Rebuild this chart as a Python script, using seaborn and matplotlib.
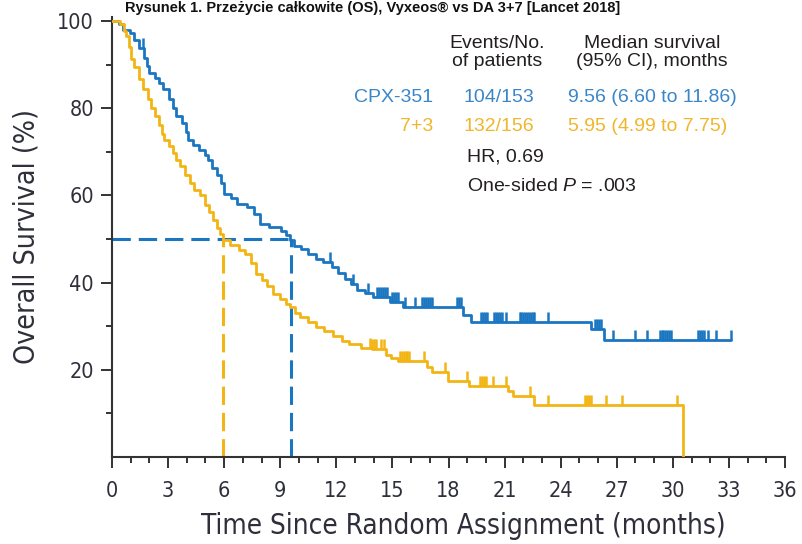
import numpy as np
import pandas as pd
import matplotlib
matplotlib.use("Agg")
import matplotlib.pyplot as plt
from matplotlib.path import Path
import seaborn as sns

# ---- data -------------------------------------------------------------
arms = ["CPX-351", "7+3"]
line_colors = ["#1b76c2", "#f2b515"]
label_colors = ["#3a86c8", "#f0b62c"]

# Kaplan-Meier steps: month of each drop and survival (%) after it
cpx_month = [0.0, 0.35, 0.6, 0.95, 1.2, 1.45, 1.7, 1.85, 2.0, 2.3, 2.5, 2.75,
             3.05, 3.25, 3.4, 3.75, 3.95, 4.05, 4.35, 4.65, 4.95, 5.15, 5.35,
             5.6, 5.85, 6.0, 6.35, 6.7, 7.2, 7.6, 7.9, 8.4, 9.05, 9.3, 9.5,
             9.75, 10.1, 10.5, 10.9, 11.3, 11.75, 12.1, 12.45, 12.8, 13.1,
             13.55, 13.95, 14.85, 15.55, 18.8, 19.2, 25.6, 26.3, 33.1]
cpx_surv = [100.0, 99.3, 98.0, 97.3, 95.6, 93.9, 91.5, 89.6, 88.1, 87.0, 85.8,
            84.4, 82.0, 80.0, 78.2, 76.6, 74.6, 72.8, 71.6, 70.4, 69.2, 68.0,
            66.3, 64.6, 62.8, 60.4, 59.3, 58.1, 57.3, 55.8, 53.5, 52.7, 51.8,
            50.8, 49.7, 48.5, 47.6, 46.5, 45.4, 44.7, 43.5, 42.2, 40.9, 39.7,
            38.2, 37.6, 36.6, 35.5, 34.3, 32.6, 30.9, 29.3, 26.8, 26.8]
cpx_censored = [1.65, 11.66, 12.9, 13.7, 14.2, 14.3, 14.4, 14.5, 14.6, 14.7,
                15.0, 15.1, 15.2, 15.3, 15.67, 16.2, 16.6, 16.7, 16.8, 16.9,
                17.0, 17.1, 18.45, 18.55, 18.65, 19.75, 19.85, 19.95, 20.05,
                20.45, 20.55, 20.65, 20.75, 20.85, 21.1, 21.8, 21.9, 22.0,
                22.1, 22.2, 22.3, 22.4, 22.5, 22.6, 23.3, 25.85, 25.95, 26.05,
                26.15, 26.8, 27.95, 28.6, 29.3, 29.4, 29.5, 29.6, 29.7, 29.8,
                29.9, 31.35, 31.45, 31.55, 31.65, 31.9, 32.3, 33.1]

std_month = [0.0, 0.45, 0.62, 0.77, 0.9, 1.03, 1.2, 1.45, 1.65, 1.9, 2.1, 2.3,
             2.5, 2.7, 2.8, 3.05, 3.25, 3.45, 3.62, 3.9, 4.15, 4.4, 4.7, 4.95,
             5.2, 5.4, 5.6, 5.8, 5.95, 6.3, 6.8, 7.1, 7.45, 7.7, 8.0, 8.3, 8.6,
             9.0, 9.3, 9.5, 9.8, 10.05, 10.5, 10.9, 11.35, 11.8, 12.3, 12.7,
             13.3, 13.9, 14.65, 14.95, 15.3, 16.85, 17.1, 17.95, 19.1, 21.2,
             21.45, 22.55, 30.55]
std_surv = [100.0, 99.3, 97.8, 96.5, 94.0, 91.2, 89.5, 86.6, 84.5, 82.0, 80.0,
            78.2, 76.2, 74.0, 72.8, 71.3, 69.7, 68.2, 66.7, 64.7, 62.8, 61.3,
            60.0, 57.9, 56.2, 54.3, 52.6, 51.1, 49.7, 48.6, 47.4, 46.6, 44.6,
            42.0, 40.6, 39.2, 37.4, 36.2, 35.2, 34.3, 33.1, 32.0, 30.9, 29.7,
            28.8, 27.8, 26.7, 25.9, 25.1, 24.7, 23.5, 22.8, 22.1, 20.6, 19.4,
            17.5, 16.3, 15.2, 14.0, 12.0, 0.0]
std_censored = [13.8, 13.9, 14.0, 14.1, 14.4, 14.55, 15.4, 15.5, 15.6, 15.7,
                15.8, 15.9, 16.7, 17.8, 19.0, 19.7, 19.8, 19.9, 20.0, 20.4,
                21.05, 22.35, 23.3, 25.3, 25.4, 25.5, 25.6, 26.4, 27.3, 30.2]

median_os = [9.56, 5.95]
events = ["104/153", "132/156"]
median_ci = ["9.56 (6.60 to 11.86)", "5.95 (4.99 to 7.75)"]
hr_label = "HR, 0.69"
p_label = "One-sided $P$ = .003"
col_events = "Events/No.\nof patients"
col_median = "Median survival\n(95% CI), months"

x_major = list(range(0, 37, 3))
x_minor = list(range(0, 37, 1))
y_major = [20, 40, 60, 80, 100]
y_minor = [10, 30, 50, 70, 90]

x_title = "Time Since Random Assignment (months)"
y_title = "Overall Survival (%)"
fig_title = "Rysunek 1. Przeżycie całkowite (OS), Vyxeos® vs DA 3+7 [Lancet 2018]"

# ---- styling ----------------------------------------------------------
sns.set_style("ticks")
plt.rcParams["font.family"] = ["Liberation Sans", "DejaVu Sans"]
plt.rcParams["mathtext.fontset"] = "custom"
plt.rcParams["mathtext.rm"] = "Liberation Sans"
plt.rcParams["mathtext.it"] = "Liberation Sans:italic"
narrow = ["Liberation Sans Narrow", "DejaVu Sans"]
axis_ink = "#2e2f3a"

fig = plt.figure(figsize=(8.02, 5.44), dpi=100)
ax = fig.add_axes([112 / 802, 1 - 457 / 544, (785 - 112) / 802, (457 - 16.6) / 544])

curves = pd.concat([
    pd.DataFrame({"month": cpx_month, "survival": cpx_surv, "arm": arms[0]}),
    pd.DataFrame({"month": std_month, "survival": std_surv, "arm": arms[1]}),
])

# median reference lines (dashed)
dash = (6, 2.6)
ax.plot([0, median_os[0]], [50, 50], color=line_colors[0], lw=2.2,
        dashes=dash, zorder=1)
for m, c in zip(median_os, line_colors):
    ax.plot([m, m], [0, 50], color=c, lw=2.2, dashes=dash, zorder=1)

sns.lineplot(data=curves, x="month", y="survival", hue="arm",
             palette=dict(zip(arms, line_colors)), estimator=None, sort=False,
             drawstyle="steps-post", linewidth=2.0, legend=False, ax=ax,
             zorder=3)

# censoring marks: short upward ticks sitting on the curve
tick_mark = Path([(0, 0), (0, 1)], [Path.MOVETO, Path.LINETO])
for months, surv, cens, c in [(cpx_month, cpx_surv, cpx_censored, line_colors[0]),
                              (std_month, std_surv, std_censored, line_colors[1])]:
    idx = np.searchsorted(months, cens, side="right") - 1
    level = np.asarray(surv)[idx]
    sns.scatterplot(x=cens, y=level, marker=tick_mark, s=190, color=c,
                    edgecolor=c, linewidth=1.8, ax=ax, zorder=4, legend=False)

# ---- axes -------------------------------------------------------------
ax.set_xlim(0, 36)
ax.set_ylim(0, 101)
ax.set_xticks(x_major)
ax.set_xticks(x_minor, minor=True)
ax.set_yticks(y_major)
ax.set_yticks(y_minor, minor=True)
ax.set_xticklabels([str(v) for v in x_major], family=narrow, stretch="condensed",
                   fontsize=15.5, color=axis_ink)
ax.set_yticklabels([str(v) for v in y_major], family=narrow, stretch="condensed",
                   fontsize=15.5, color=axis_ink)
ax.tick_params(axis="both", which="major", length=8, width=1.4, color="#333333")
ax.tick_params(axis="both", which="minor", length=4.5, width=1.4, color="#333333")
ax.tick_params(axis="x", which="major", pad=9)
ax.tick_params(axis="y", which="major", pad=5)
for side in ["top", "right"]:
    ax.spines[side].set_visible(False)
for side in ["left", "bottom"]:
    ax.spines[side].set_color("#333333")
    ax.spines[side].set_linewidth(1.5)

ax.set_xlabel(x_title, family=narrow, stretch="condensed", fontsize=20,
              color=axis_ink)
ax.xaxis.set_label_coords((463 - 112) / 673, -0.126)
ax.set_ylabel(y_title, family=narrow, stretch="condensed", fontsize=20.5,
              color=axis_ink, labelpad=12)

# ---- summary table ----------------------------------------------------
head_kw = dict(fontsize=14, color="#231f20", ha="center", va="center",
               linespacing=1.05)
ax.text(20.6, 92.8, col_events, **head_kw)
ax.text(28.9, 92.8, col_median, **head_kw)
row_y = [82.5, 75.9]
for arm, ev, med, c, y in zip(arms, events, median_ci, label_colors, row_y):
    ax.text(17.2, y, arm, fontsize=14, color=c, ha="right", va="center")
    ax.text(18.8, y, ev, fontsize=14, color=c, ha="left", va="center")
    ax.text(24.4, y, med, fontsize=14, color=c, ha="left", va="center")
ax.text(19.0, 68.7, hr_label, fontsize=14, color="#231f20", ha="left", va="center")
ax.text(19.0, 62.0, p_label, fontsize=14, color="#231f20", ha="left", va="center")

fig.text(620 / 802, 1 - 12 / 544, fig_title, fontsize=10.5, fontweight="bold",
         color="#111111", ha="right", va="baseline")

fig.savefig("out.png", dpi=100)
